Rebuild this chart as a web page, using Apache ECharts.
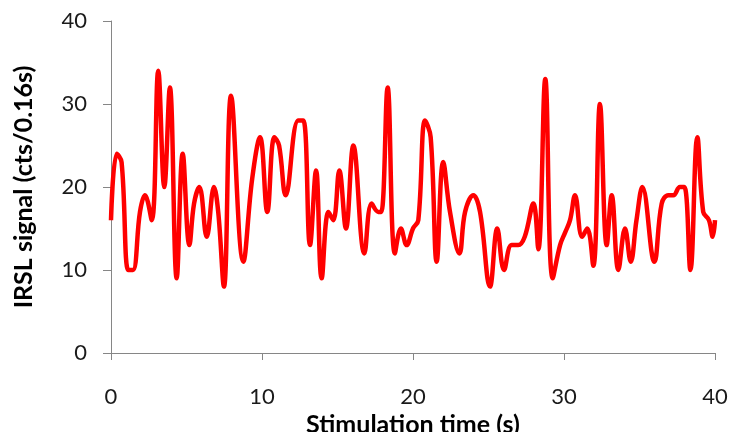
<!DOCTYPE html>
<html>
<head>
<meta charset="utf-8">
<script src="https://cdn.jsdelivr.net/npm/echarts@6/dist/echarts.min.js"></script>
<style>
html,body{margin:0;padding:0;background:#fff;}
#chart{width:729px;height:432px;}
</style>
</head>
<body>
<div id="chart"></div>
<script>
// Stimulation time (s)
const times = [
  0, 0.38, 0.7, 1.15, 1.45, 1.92, 2.25, 2.7, 3.13, 3.53,
  3.9, 4.35, 4.75, 5.19, 5.5, 5.85, 6.34, 6.82, 7.1, 7.48,
  7.95, 8.76, 9.35, 9.87, 10.35, 10.82, 11.13, 11.57, 12.4, 12.74,
  13.18, 13.58, 13.95, 14.4, 14.72, 15.12, 15.56, 16.05, 16.78, 17.26,
  17.7, 17.9, 18.32, 18.8, 19.2, 19.58, 20.0, 20.35, 20.8, 21.17,
  21.57, 22.0, 22.45, 23.07, 23.45, 24.0, 24.44, 25.1, 25.58, 26.03,
  26.53, 26.97, 27.4, 27.97, 28.3, 28.76, 29.25, 29.74, 30.07, 30.4,
  30.73, 31.2, 31.54, 31.94, 32.38, 32.83, 33.16, 33.6, 34.04, 34.42,
  34.8, 35.19, 35.98, 36.47, 36.91, 37.24, 37.68, 37.97, 38.37, 38.83,
  39.22, 39.6, 39.85, 40.0
];
// IRSL signal (cts/0.16s)
const signal = [
  16, 24, 23, 10, 10, 17, 19, 16, 34, 20,
  32, 9, 24, 13, 18, 20, 14, 20, 17, 8,
  31, 11, 21, 26, 17, 26, 25, 19, 28, 28,
  13, 22, 9, 17, 16, 22, 15, 25, 12, 18,
  17, 17, 32, 12, 15, 13, 15, 16, 28, 26,
  11, 23, 17, 12, 17, 19, 17, 8, 15, 10,
  13, 13, 14, 18, 12.5, 33, 9, 13, 14.5, 16,
  19, 14, 15, 10.5, 30, 13, 19, 10, 15, 11,
  16, 20, 11, 18, 19, 19, 20, 20, 10, 26,
  17, 16, 14, 16
];
const xTicks = [0, 10, 20, 30, 40];
const yTicks = [0, 10, 20, 30, 40];

const seriesData = times.map((t, i) => [t, signal[i]]);

const chart = echarts.init(document.getElementById('chart'), null, {renderer: 'canvas'});
const axisColor = '#868686';
const labelFont = 'Lato, "Open Sans", sans-serif';
chart.setOption({
  animation: false,
  backgroundColor: '#ffffff',
  grid: {left: 111, right: 14, top: 21, bottom: 79, containLabel: false, outerBoundsMode: 'none'},
  xAxis: {
    type: 'value',
    min: xTicks[0], max: xTicks[xTicks.length - 1], interval: 10,
    name: 'Stimulation time (s)',
    nameLocation: 'middle',
    nameGap: 52,
    nameTextStyle: {fontFamily: labelFont, fontSize: 25, fontWeight: 'bold', color: '#000'},
    axisLine: {show: true, lineStyle: {color: axisColor, width: 1}},
    axisTick: {show: true, inside: false, length: 7, lineStyle: {color: axisColor}},
    axisLabel: {margin: 33, fontFamily: labelFont, fontSize: 22, color: '#1a1a1a'},
    splitLine: {show: false}
  },
  yAxis: {
    type: 'value',
    min: yTicks[0], max: yTicks[yTicks.length - 1], interval: 10,
    name: 'IRSL signal (cts/0.16s)',
    nameLocation: 'middle',
    nameGap: 75,
    nameTextStyle: {fontFamily: labelFont, fontSize: 25, fontWeight: 'bold', color: '#000'},
    axisLine: {show: true, lineStyle: {color: axisColor, width: 1}},
    axisTick: {show: true, inside: false, length: 8, lineStyle: {color: axisColor}},
    axisLabel: {margin: 24, fontFamily: labelFont, fontSize: 22, color: '#1a1a1a'},
    splitLine: {show: false}
  },
  series: [{
    type: 'line',
    data: seriesData,
    smooth: 0.4,
    showSymbol: false,
    clip: true,
    lineStyle: {color: '#ff0000', width: 4.5}
  }]
});
</script>
</body>
</html>
